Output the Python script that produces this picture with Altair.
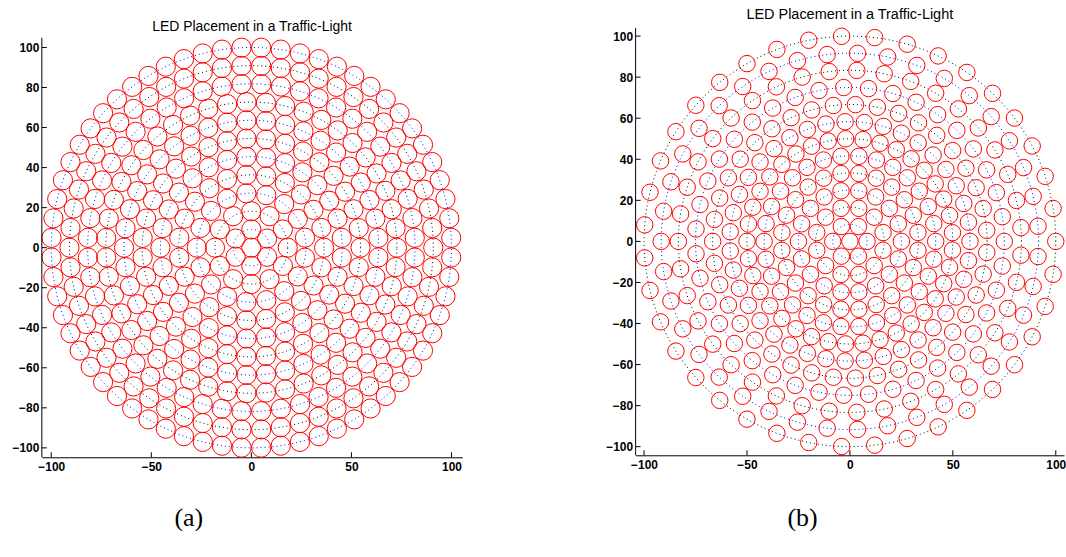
import math
import pandas as pd
import altair as alt

TITLE = "LED Placement in a Traffic-Light"

# Panel (a): close-packed rings, larger LEDs
A_RING_RADII = [0.0, 9.09, 18.18, 27.27, 36.36, 45.45, 54.55, 63.64, 72.73, 81.82, 90.91, 100.0]
A_RING_COUNTS = [1, 6, 12, 17, 23, 29, 35, 41, 47, 52, 58, 64]
A_RING_PHASE = [0.0, 0.5, 0.0, 0.5, 0.0, 0.5, 0.0, 0.5, 0.0, 0.5, 0.0, 0.5]
A_LED_RADIUS = 4.8

# Panel (b): more rings, at most 39 LEDs per ring, smaller LEDs
B_RING_RADII = [0.0, 8.33, 16.67, 25.0, 33.33, 41.67, 50.0, 58.33, 66.67, 75.0, 83.33, 91.67, 100.0]
B_RING_COUNTS = [1, 6, 12, 18, 24, 30, 37, 39, 39, 39, 39, 39, 39]
B_RING_PHASE = [0.0, 0.0, 0.5, 0.0, 0.5, 0.0, 0.5, 0.0, 0.5, 0.0, 0.5, 0.5, 0.0]
B_LED_RADIUS = 4.0

X_TICKS = [-100, -50, 0, 50, 100]
Y_TICKS = [-100, -80, -60, -40, -20, 0, 20, 40, 60, 80, 100]

LABEL_FONT = "Liberation Sans"


def led_table(radii, counts, phases):
    rows = []
    for k, (r, n, p) in enumerate(zip(radii, counts, phases)):
        for i in range(n):
            t = 2 * math.pi * (i + p) / n
            rows.append({"ring": k, "x": r * math.cos(t), "y": r * math.sin(t)})
    return pd.DataFrame(rows)


def ring_table(radii):
    rows = []
    for k, r in enumerate(radii):
        if r == 0:
            continue
        for j in range(361):
            t = 2 * math.pi * j / 360
            rows.append({"ring": k, "idx": j, "x": r * math.cos(t), "y": r * math.sin(t),
                         "tone": "odd" if k % 2 else "even"})
    return pd.DataFrame(rows)


def panel(radii, counts, phases, led_r, xdom, ydom, w, h, top_gap, label, label_x, label_y,
          title_size, title_dy):
    """One LED layout. The axes box is w x h pixels; top_gap pixels of empty
    plot area sit above it so that the two panels can start at different heights."""
    px_per_unit = w / (xdom[1] - xdom[0])
    py_per_unit = h / (ydom[1] - ydom[0])
    led_size = (2 * led_r * px_per_unit) ** 2
    full_h = h + top_gap
    y_top = ydom[1] + top_gap / py_per_unit

    xs = alt.Scale(domain=xdom, nice=False, zero=False)
    ys = alt.Scale(domain=[ydom[0], y_top], nice=False, zero=False)
    xaxis = alt.Axis(values=X_TICKS, title=label, grid=False, tickSize=0, labelPadding=4,
                     titleX=label_x, titleY=label_y, titleAlign="center",
                     titleBaseline="alphabetic", titleFont="Liberation Serif",
                     titleFontSize=26, titleFontWeight="normal", titleColor="black")
    yaxis = alt.Axis(values=Y_TICKS, title=None, grid=False, tickSize=0, labelPadding=3,
                     domain=False)

    def X(field):
        return alt.X(field, type="quantitative", scale=xs, axis=xaxis)

    def Y(field):
        return alt.Y(field, type="quantitative", scale=ys, axis=yaxis)

    rings = alt.Chart(ring_table(radii)).mark_line(
        strokeDash=[1, 3], strokeWidth=1
    ).encode(
        x=X("x"), y=Y("y"),
        color=alt.Color("tone:N", scale=alt.Scale(domain=["even", "odd"], range=["#000000", "#0000ff"]),
                        legend=None),
        detail="ring:N",
        order=alt.Order("idx:Q"),
    )

    leds = alt.Chart(led_table(radii, counts, phases)).mark_point(
        shape="circle", filled=False, color="#ff0000", strokeWidth=1, opacity=1, size=led_size
    ).encode(x=X("x"), y=Y("y"))

    xticks = alt.Chart(pd.DataFrame({"v": X_TICKS})).mark_rule(color="black", strokeWidth=1).encode(
        x=X("v"), y=alt.value(full_h), y2=alt.value(full_h - 5)
    )
    yticks = alt.Chart(pd.DataFrame({"v": Y_TICKS})).mark_rule(color="black", strokeWidth=1).encode(
        y=Y("v"), x=alt.value(0), x2=alt.value(5)
    )
    # left axis line spanning the axes box only
    yline = alt.Chart(pd.DataFrame({"lo": [ydom[0]], "hi": [ydom[1]]})).mark_rule(
        color="black", strokeWidth=1
    ).encode(y=Y("lo"), y2="hi:Q", x=alt.value(0))

    return alt.layer(rings, leds, xticks, yticks, yline).properties(
        width=w, height=full_h,
        title=alt.TitleParams(TITLE, font=LABEL_FONT, fontSize=title_size, fontWeight="normal",
                              color="black", frame="group", anchor="middle", offset=4,
                              dy=title_dy),
    )


chart_a = panel(A_RING_RADII, A_RING_COUNTS, A_RING_PHASE, A_LED_RADIUS,
                [-104.7, 105.4], [-104.7, 104.8], 422, 421, 10, "(a)", 147, 68, 14, 10)
chart_b = panel(B_RING_RADII, B_RING_COUNTS, B_RING_PHASE, B_LED_RADIUS,
                [-104.1, 104.0], [-104.2, 104.0], 430, 429, 0, "(b)", 167, 70, 14.5, 0)

chart = alt.concat(chart_a, chart_b, columns=2, spacing=142, align="none").properties(
    padding={"left": 11, "top": 5, "right": 0, "bottom": 0}
).configure_view(stroke=None).configure_axis(
    labelFont=LABEL_FONT, labelFontSize=12, labelFontWeight="bold", labelColor="black",
    domainColor="black", domainWidth=1,
)

chart.save("out.html", embed_options={"renderer": "svg", "actions": False})
